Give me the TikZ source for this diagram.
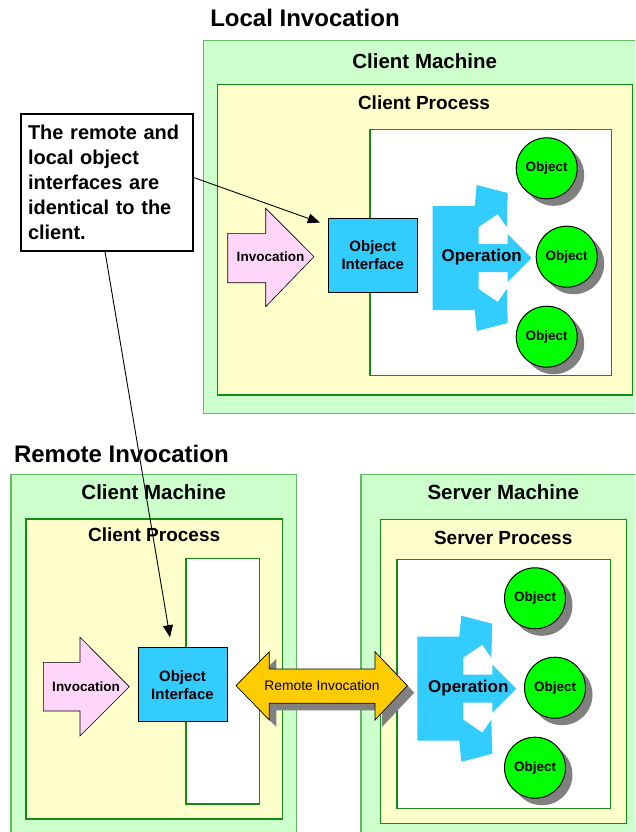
\documentclass[tikz,border=0pt]{standalone}
\usepackage{fontspec}
\setmainfont{Liberation Sans}
\usetikzlibrary{arrows.meta,shadows}

\definecolor{machfill}{HTML}{CCFFCC}
\definecolor{machline}{RGB}{100,185,100}
\definecolor{procfill}{HTML}{FFFFCC}
\definecolor{procline}{RGB}{20,140,20}
\definecolor{ifacefill}{HTML}{33CCFF}
\definecolor{opfill}{HTML}{33CCFF}
\definecolor{objfill}{HTML}{00FF00}
\definecolor{invfill}{RGB}{255,214,250}
\definecolor{remfill}{HTML}{FFCC00}
\definecolor{shadowgray}{RGB}{128,128,128}

\tikzset{
  machine/.style={draw=machline, fill=machfill, line width=1.4pt},
  process/.style={draw=procline, fill=procfill, line width=1.4pt},
  innerbox/.style={draw=procline, fill=white, line width=1.2pt},
  boxtitle/.style={anchor=base, font=\fontsize{20.5}{24}\selectfont\bfseries},
  proctitle/.style={anchor=base, font=\fontsize{19}{22}\selectfont\bfseries},
  secttitle/.style={font=\fontsize{24}{28}\selectfont\bfseries},
  iface/.style={draw=black, fill=ifacefill, line width=1pt, minimum width=89pt,
    minimum height=74pt, inner sep=0pt, align=center,
    font=\fontsize{15}{18}\selectfont\bfseries},
  obj/.style={circle, draw=black, fill=objfill, line width=1pt, minimum size=61pt,
    inner sep=0pt, font=\fontsize{13.5}{16}\selectfont\bfseries,
    drop shadow={shadow xshift=7pt, shadow yshift=-7pt, fill=shadowgray, opacity=1}},
  invshape/.style={draw=black, fill=invfill, line width=0.6pt},
  invtext/.style={font=\fontsize{13.5}{16}\selectfont\bfseries},
  optext/.style={font=\fontsize{17}{20}\selectfont\bfseries},
  callout/.style={draw=black, fill=white, line width=1.2pt, minimum width=172pt,
    minimum height=137pt, text width=158pt, align=left, inner sep=0pt,
    font=\fontsize{20}{25}\selectfont\bfseries},
  pointer/.style={draw=black, line width=0.9pt, -{Triangle[length=12pt,width=10pt]}},
  operation/.pic={
    \fill[opfill] (0,0) -- (42,0) -- (44,-21) -- (75,-13) -- (74,21) -- (65,8)
      -- (46,21) -- (46,38) -- (75,38) -- (75,28) -- (99,52) -- (75,76) -- (75,66)
      -- (46,66) -- (46,83) -- (65,96) -- (74,83) -- (75,117) -- (44,125)
      -- (42,104) -- (0,104) -- cycle;
  }
}

\begin{document}
\begin{tikzpicture}[x=1pt,y=-1pt]
\useasboundingbox (0,0) rectangle (635,832);
\clip (0,0) rectangle (635,832);

% ---------------- Local invocation ----------------
\node[secttitle, anchor=base] (ltitle) at (305,26.7) {Local Invocation};

\draw[machine] (203.3,40.7) rectangle (650,413.3);
\node[boxtitle] (lmach) at (424.7,68.3) {Client Machine};
\draw[process] (217.7,84.7) rectangle (632.3,395);
\node[proctitle] (lproc) at (424,110) {Client Process};
\draw[innerbox] (370,129.3) rectangle (611.7,375.7);

% invocation arrow
\draw[invshape] (227.7,233.3) -- (265.7,233.3) -- (265.7,208.3) -- (314,256.7)
  -- (265.7,306.7) -- (265.7,282.7) -- (227.7,282.7) -- cycle;
\node[invtext] (linv) at (270.5,257) {Invocation};

\node[iface] (oi1) at (372.8,255) {Object\\Interface};

\pic at (432.7,206) {operation};
\node[optext] (lop) at (481.7,257.3) {Operation};

\node[obj] (lo1) at (546.7,168.3) {Object};
\node[obj] (lo2) at (566.7,256.7) {Object};
\node[obj] (lo3) at (546.7,336.7) {Object};

% ---------------- Remote invocation ----------------
\node[secttitle, anchor=base west] (rtitle) at (10.5,462.7) {Remote Invocation};

\draw[machine] (11,474.3) rectangle (296.7,850);
\node[boxtitle] (cmach) at (153.8,499.3) {Client Machine};
\draw[process] (26,519) rectangle (282.3,819);
\node[proctitle] (cproc) at (154.2,541.7) {Client Process};
\draw[innerbox] (186,558.3) rectangle (259.7,804);

\draw[machine] (361,474.3) rectangle (650,850);
\node[boxtitle] (smach) at (503.3,499.3) {Server Machine};
\draw[process] (380.3,519.3) rectangle (626.3,823.3);
\node[proctitle] (sproc) at (503.2,544) {Server Process};
\draw[innerbox] (396.9,559.3) rectangle (610.7,808.3);

% client side
\draw[invshape] (43.3,662.3) -- (80,662.3) -- (80,637.3) -- (129.3,686.7)
  -- (80,736) -- (80,711) -- (43.3,711) -- cycle;
\node[invtext] (cinv) at (86,686.7) {Invocation};

\node[iface] (oi2) at (182.5,684.7) {Object\\Interface};

% remote invocation double arrow with its shadow
\fill[shadowgray, shift={(7,7)}] (236,685.7) -- (269.3,651.7) -- (269.3,669)
  -- (375,669) -- (375,651.7) -- (407.3,685.7) -- (375,720) -- (375,703.3)
  -- (269.3,703.3) -- (269.3,720) -- cycle;
\draw[draw=black, fill=remfill, line width=0.7pt] (236,685.7) -- (269.3,651.7)
  -- (269.3,669) -- (375,669) -- (375,651.7) -- (407.3,685.7) -- (375,720)
  -- (375,703.3) -- (269.3,703.3) -- (269.3,720) -- cycle;
\node[font=\fontsize{13.8}{16}\selectfont] (rinv) at (322,685.7) {Remote Invocation};

% server side
\pic at (417.3,636.7) {operation};
\node[optext] (sop) at (468.3,688.3) {Operation};

\node[obj] (so1) at (535,598.3) {Object};
\node[obj] (so2) at (555,687.7) {Object};
\node[obj] (so3) at (535,767.7) {Object};

% ---------------- callout ----------------
\node[callout] (note) at (107,182.5)
  {The remote and\\local object\\interfaces are\\identical to the\\client.};

\draw[pointer] ([yshift=5pt]note.east) -- ([xshift=-8pt,yshift=-5pt]oi1.north west);
\draw[pointer] ([xshift=-2pt]note.south) -- ([xshift=-12.5pt,yshift=10pt]oi2.north);
\end{tikzpicture}
\end{document}
